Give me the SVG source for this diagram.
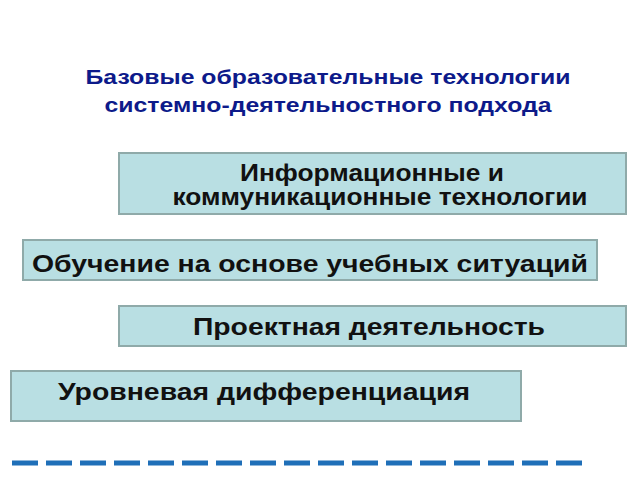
<svg xmlns="http://www.w3.org/2000/svg" width="640" height="480" viewBox="0 0 640 480">
<style>
.box{fill:#b9dfe3;stroke:#8faaa9;stroke-width:2}
.t{font-family:"Liberation Sans",Arial,sans-serif;font-size:23px;font-weight:bold;fill:#111;text-anchor:middle}
.h{font-family:"Liberation Sans",Arial,sans-serif;font-size:20px;font-weight:bold;fill:#0d1a8a;text-anchor:middle}
</style>
<rect width="640" height="480" fill="#fff"/>
<g id="title"><text class="h" x="328" y="84" textLength="485" lengthAdjust="spacingAndGlyphs">Базовые образовательные технологии</text><text class="h" x="328" y="112" textLength="447" lengthAdjust="spacingAndGlyphs">системно-деятельностного подхода</text></g>
<g id="n1"><rect class="box" x="119" y="153" width="507" height="61"/><text class="t" x="372" y="181" textLength="264" lengthAdjust="spacingAndGlyphs">Информационные и</text><text class="t" x="380" y="205" textLength="415" lengthAdjust="spacingAndGlyphs">коммуникационные технологии</text></g>
<g id="n2"><rect class="box" x="23" y="240" width="574" height="40"/><text class="t" x="310" y="272" textLength="556" lengthAdjust="spacingAndGlyphs">Обучение на основе учебных ситуаций</text></g>
<g id="n3"><rect class="box" x="119" y="306" width="507" height="40"/><text class="t" x="369" y="335" textLength="352" lengthAdjust="spacingAndGlyphs">Проектная деятельность</text></g>
<g id="n4"><rect class="box" x="11" y="371" width="510" height="50"/><text class="t" x="264" y="400" textLength="412" lengthAdjust="spacingAndGlyphs">Уровневая дифференциация</text></g>
<g id="connectors"><line x1="12" y1="463" x2="588" y2="463" stroke="#1f6fb8" stroke-width="5" stroke-dasharray="26 8"/></g>
</svg>
